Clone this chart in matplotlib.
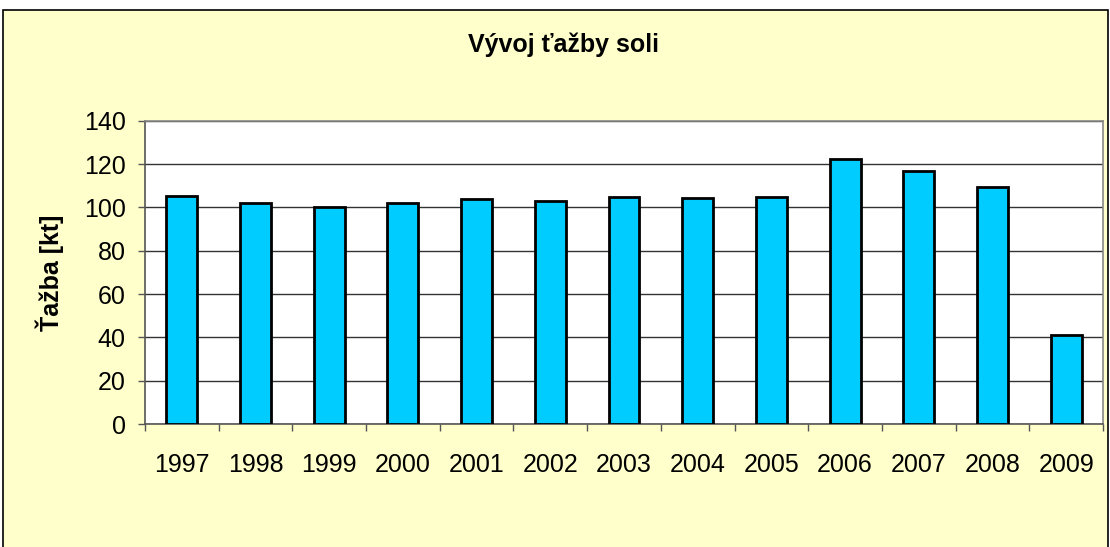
import matplotlib
matplotlib.use("Agg")
import matplotlib.pyplot as plt
from matplotlib.patches import Rectangle
import numpy as np

years = ["1997", "1998", "1999", "2000", "2001", "2002", "2003",
         "2004", "2005", "2006", "2007", "2008", "2009"]
tazba = [105.2, 102.0, 100.2, 101.8, 103.8, 102.8, 104.8,
         104.2, 104.9, 122.3, 116.6, 109.4, 41.1]
yticks = [0, 20, 40, 60, 80, 100, 120, 140]

plt.rcParams['font.family'] = ['Liberation Sans', 'DejaVu Sans']

W, H = 1110, 547
fig = plt.figure(figsize=(W/100, H/100), dpi=100)
fig.patch.set_facecolor('white')

# chart area (yellow with black border)
rect = Rectangle((3/W, -0.01), (W-5)/W, (H-10)/H + 0.01, transform=fig.transFigure,
                 facecolor='#FFFFCC', edgecolor='black', linewidth=1.2, zorder=-1)
fig.add_artist(rect)

left, right, top, bottom = 145, 1103, 120.7, 424
ax = fig.add_axes([left/W, 1-bottom/H, (right-left)/W, (bottom-top)/H])
ax.set_zorder(1)
ax.set_facecolor('white')

x = np.arange(len(years))
ax.bar(x, tazba, width=0.42, color='#00CCFF', edgecolor='black', linewidth=2, zorder=3)

ax.set_xlim(-0.5, len(years)-0.5)
ax.set_ylim(0, 140)
ax.set_yticks(yticks)
ax.set_yticklabels([str(v) for v in yticks], fontsize=18)
ax.yaxis.grid(True, color='#333333', linewidth=1.0, zorder=0)
ax.set_axisbelow(True)

ax.set_xticks(x)
ax.set_xticklabels(years, fontsize=18)
ax.tick_params(axis='x', length=0, pad=21)
ax.set_xticks(np.arange(-0.5, len(years)), minor=True)
ax.tick_params(axis='x', which='minor', length=5, direction='out', color='#555555', width=1)
ax.tick_params(axis='y', length=5, direction='out', color='#555555', width=1, pad=9)

for s in ['top', 'right']:
    ax.spines[s].set_color('#888888')
    ax.spines[s].set_linewidth(1.2)
for s in ['left', 'bottom']:
    ax.spines[s].set_color('#555555')
    ax.spines[s].set_linewidth(1.2)

ax.set_ylabel('Ťažba [kt]', fontsize=18, fontweight='bold', labelpad=14)
fig.text(563/W, 1-45/H, 'Vývoj ťažby soli', ha='center', va='center',
         fontsize=18, fontweight='bold')

fig.savefig('out.png', dpi=100, facecolor=fig.get_facecolor())
